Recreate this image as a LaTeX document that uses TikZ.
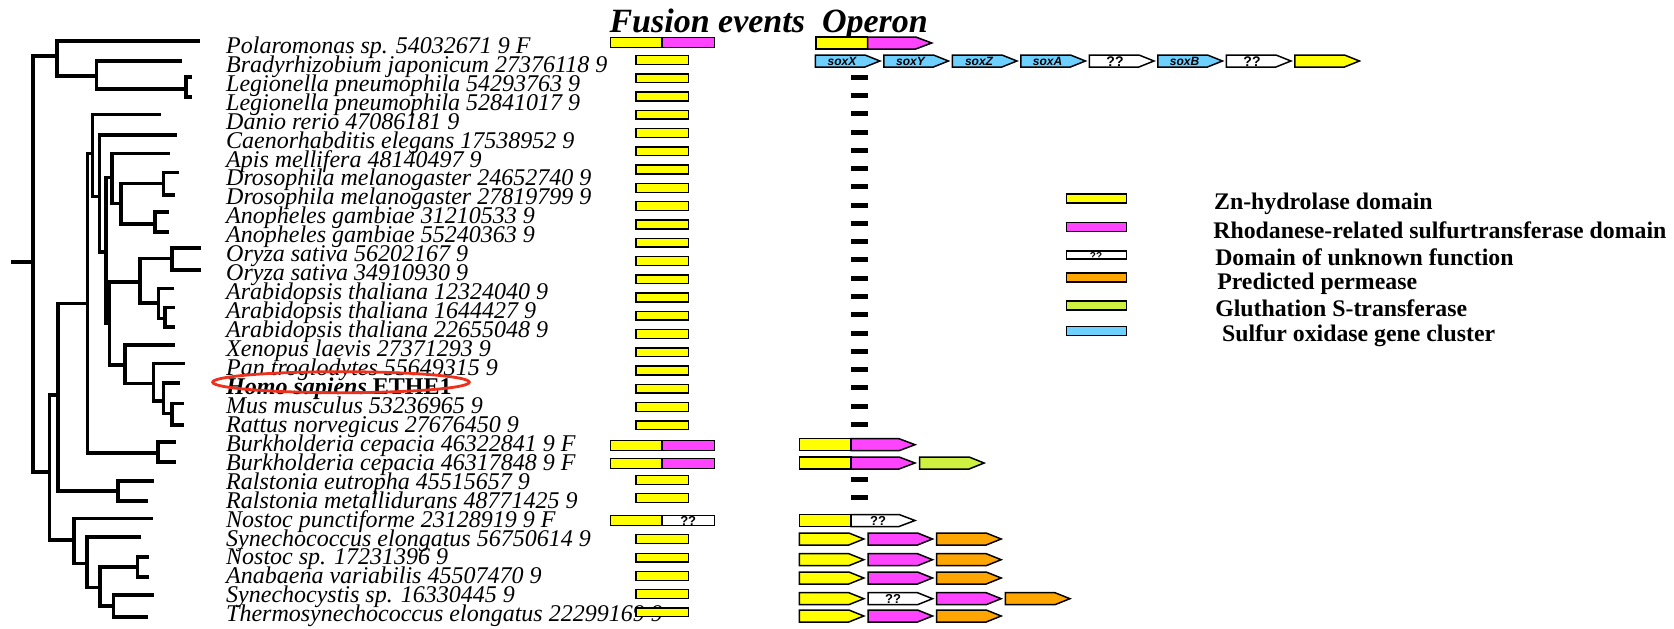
\documentclass[tikz,border=0pt]{standalone}
\usepackage{fontspec}
\setmainfont{Liberation Serif}
\newfontfamily\sansf{Liberation Sans}
\definecolor{gyellow}{RGB}{255,255,0}
\definecolor{gmag}{RGB}{255,68,255}
\definecolor{gblue}{RGB}{110,208,255}
\definecolor{gorange}{RGB}{255,165,0}
\definecolor{ggreen}{RGB}{206,240,64}
\definecolor{ered}{RGB}{238,48,28}
\tikzset{
  tree/.style={line width=3.6pt, line cap=rect},
  bar/.style={draw=black, line width=1.5pt},
  dashmark/.style={line width=5pt},
  spname/.style={anchor=base west, inner sep=0pt, font=\fontsize{24}{24}\selectfont\itshape},
  ttl/.style={anchor=base west, inner sep=0pt, font=\fontsize{34}{34}\selectfont\bfseries\itshape},
  leg/.style={anchor=base west, inner sep=0pt, font=\fontsize{23.8}{24}\selectfont\bfseries},
  soxlab/.style={inner sep=0pt, font=\sansf\fontsize{12}{12}\selectfont\bfseries\itshape},
  qlab/.style={inner sep=0pt, font=\sansf\fontsize{13}{13}\selectfont\bfseries},
}
% gene arrow: x, y, colour
\newcommand\gArrow[3]{%
  \filldraw[bar, fill=#3] (#1,#2) ++(0,-6) -- ++(49.5,0) -- ++(15,6) -- ++(-15,6) -- ++(-49.5,0) -- cycle;}
% fused gene arrow: x, y, second colour
\newcommand\fArrow[3]{%
  \filldraw[bar, fill=gyellow] (#1,#2) ++(0,-6) rectangle ++(51.7,12);
  \filldraw[bar, fill=#3] (#1,#2) ++(51.7,-6) -- ++(48,0) -- ++(16,6) -- ++(-16,6) -- ++(-48,0) -- cycle;}
% fused bar: y, second colour
\newcommand\fBar[2]{%
  \filldraw[bar, fill=gyellow] (610.7,#1) ++(0,-5) rectangle (662.1,#1+5);
  \filldraw[bar, fill=#2] (662.1,#1) ++(0,-5) rectangle (714.3,#1+5);}
\begin{document}
\begin{tikzpicture}[x=1pt, y=-1pt]
\useasboundingbox (0,0) rectangle (1674,629);

% ---------------- tree ----------------
\coordinate (root) at (32.9,261.7); \coordinate (rs) at (13.2,261.7);
\coordinate (A) at (57.1,56); \coordinate (L0) at (198.2,40.7);
\coordinate (B) at (96.4,76); \coordinate (L1) at (180.4,60.7);
\coordinate (C) at (185.7,89); \coordinate (L2) at (190.4,76.7); \coordinate (L3) at (190.4,96.7);
\coordinate (X) at (49.3,471.7); \coordinate (Y) at (57.8,395);
\coordinate (D) at (87.3,303.3);
\coordinate (R) at (117.9,491); \coordinate (R1) at (151.8,481); \coordinate (R2) at (146.4,501);
\coordinate (Bk) at (158.2,452.7); \coordinate (Bk1) at (174.3,441.7); \coordinate (Bk2) at (174.3,461.7);
\coordinate (E) at (92.3,153.3); \coordinate (L4) at (159,114.5);
\coordinate (F) at (99.3,196.5); \coordinate (L5) at (175,135);
\coordinate (G) at (105.7,251.7);
\coordinate (H) at (111.7,177.3); \coordinate (L6) at (168.3,153.3);
\coordinate (I) at (120.7,203.3);
\coordinate (J) at (163.3,183.3); \coordinate (J1) at (177.3,172.3); \coordinate (J2) at (173.3,195);
\coordinate (K) at (155,224); \coordinate (K1) at (166.7,211.7); \coordinate (K2) at (166.7,231.7);
\coordinate (P) at (109.3,323.3);
\coordinate (Q) at (140,281.7);
\coordinate (O) at (171.7,258.3); \coordinate (O1) at (199.3,247.7); \coordinate (O2) at (199.3,270);
\coordinate (S) at (158.3,302.7); \coordinate (L13) at (171.7,288.3);
\coordinate (T) at (165,318.3); \coordinate (T1) at (173.3,307.3); \coordinate (T2) at (173.3,326.7);
\coordinate (V) at (125,365); \coordinate (L16) at (172.7,345);
\coordinate (W) at (153.3,383.3); \coordinate (L17) at (182.7,363.3);
\coordinate (Z) at (163.3,401); \coordinate (L18) at (178.3,382.7);
\coordinate (M) at (171.7,413.3); \coordinate (M1) at (181.7,403.3); \coordinate (M2) at (181.7,425);
\coordinate (Cy) at (73.9,540); \coordinate (L25) at (151.1,518.3);
\coordinate (C2) at (86.8,563.3); \coordinate (L26) at (139.3,536.7);
\coordinate (C3) at (100,587.3);
\coordinate (C4) at (137.5,566.7); \coordinate (C41) at (147.5,556.7); \coordinate (C42) at (147.5,576.7);
\coordinate (C5) at (113.6,605.7); \coordinate (C51) at (151.8,595); \coordinate (C52) at (146.4,616.7);

\draw[tree] (root) -- (rs);
\draw[tree] (A) -| (root) |- (X);
\draw[tree] (L0) -| (A) |- (B);
\draw[tree] (L1) -| (B) |- (C);
\draw[tree] (L2) -| (C) |- (L3);
\draw[tree] (Y) -| (X) |- (Cy);
\draw[tree] (D) -| (Y) |- (R);
\draw[tree] (R1) -| (R) |- (R2);
\draw[tree] (E) -| (D) |- (Bk);
\draw[tree] (Bk1) -| (Bk) |- (Bk2);
\draw[tree] (L4) -| (E) |- (F);
\draw[tree] (L5) -| (F) |- (G);
\draw[tree] (H) -| (G) |- (P);
\draw[tree] (L6) -| (H) |- (I);
\draw[tree] (J) -| (I) |- (K);
\draw[tree] (J1) -| (J) |- (J2);
\draw[tree] (K1) -| (K) |- (K2);
\draw[tree] (Q) -| (P) |- (V);
\draw[tree] (O) -| (Q) |- (S);
\draw[tree] (O1) -| (O) |- (O2);
\draw[tree] (L13) -| (S) |- (T);
\draw[tree] (T1) -| (T) |- (T2);
\draw[tree] (L16) -| (V) |- (W);
\draw[tree] (L17) -| (W) |- (Z);
\draw[tree] (L18) -| (Z) |- (M);
\draw[tree] (M1) -| (M) |- (M2);
\draw[tree] (L25) -| (Cy) |- (C2);
\draw[tree] (L26) -| (C2) |- (C3);
\draw[tree] (C4) -| (C3) |- (C5);
\draw[tree] (C41) -| (C4) |- (C42);
\draw[tree] (C51) -| (C5) |- (C52);

% ---------------- names ----------------
\foreach \i/\nm in {0/Polaromonas sp. 54032671 9 F, 1/Bradyrhizobium japonicum 27376118 9,
  2/Legionella pneumophila 54293763 9, 3/Legionella pneumophila 52841017 9,
  4/Danio rerio 47086181 9, 5/Caenorhabditis elegans 17538952 9,
  6/Apis mellifera 48140497 9, 7/Drosophila melanogaster 24652740 9,
  8/Drosophila melanogaster 27819799 9, 9/Anopheles gambiae 31210533 9,
  10/Anopheles gambiae 55240363 9, 11/Oryza sativa 56202167 9,
  12/Oryza sativa 34910930 9, 13/Arabidopsis thaliana 12324040 9,
  14/Arabidopsis thaliana 1644427 9, 15/Arabidopsis thaliana 22655048 9,
  16/Xenopus laevis 27371293 9, 17/Pan troglodytes 55649315 9,
  19/Mus musculus 53236965 9, 20/Rattus norvegicus 27676450 9,
  21/Burkholderia cepacia 46322841 9 F, 22/Burkholderia cepacia 46317848 9 F,
  23/Ralstonia eutropha 45515657 9, 24/Ralstonia metallidurans 48771425 9,
  25/Nostoc punctiforme 23128919 9 F, 26/Synechococcus elongatus 56750614 9,
  27/Nostoc sp. 17231396 9, 28/Anabaena variabilis 45507470 9,
  29/Synechocystis sp. 16330445 9, 30/Thermosynechococcus elongatus 22299169 9}
  \node[spname] (n\i) at (226,{53.3+18.95*\i}) {\nm};
\node[spname] (n18) at (226,{53.3+18.95*18}) {\textbf{Homo sapiens} \textbf{\upshape ETHE1}};
\draw[ered, line width=2.8pt] (341,382.2) ellipse [x radius=128.3, y radius=10.5];

% ---------------- titles ----------------
\node[ttl] (tfus) at (609.3,32.3) {Fusion events};
\node[ttl] (top) at (821.8,32.3) {Operon};

% ---------------- fusion column ----------------
\foreach \k in {0,...,20}
  \filldraw[bar, fill=gyellow] (636,{60+18.265*\k-4.4}) rectangle (688.3,{60+18.265*\k+4.4});
\foreach \y in {480,498,539,557.7,576,594,612.3}
  \filldraw[bar, fill=gyellow] (636,\y-4.4) rectangle (688.3,\y+4.4);
\fBar{42.3}{gmag}
\fBar{445.3}{gmag}
\fBar{463.3}{gmag}
\fBar{520.3}{white}
\node[qlab] (qf) at (688.2,520.8) {??};

% ---------------- operon column ----------------
\foreach \k in {0,...,19}
  \draw[dashmark] (851,{77.3+18.265*\k}) -- (868,{77.3+18.265*\k});
\draw[dashmark] (851,479.3) -- (868,479.3);
\draw[dashmark] (851,497.3) -- (868,497.3);

\fArrow{816}{43}{gmag}
% sox cluster
\gArrow{815.4}{61}{gblue}  \node[soxlab] (sx) at (842,61) {soxX};
\gArrow{883.9}{61}{gblue}  \node[soxlab] (sy) at (910.5,61) {soxY};
\gArrow{952.4}{61}{gblue}  \node[soxlab] (sz) at (979,61) {soxZ};
\gArrow{1020.9}{61}{gblue} \node[soxlab] (sa) at (1047.5,61) {soxA};
\gArrow{1089.4}{61}{white} \node[qlab, font=\sansf\fontsize{14}{14}\selectfont\bfseries] (q1) at (1115,61.5) {??};
\gArrow{1157.9}{61}{gblue} \node[soxlab] (sb) at (1184.5,61) {soxB};
\gArrow{1226.4}{61}{white} \node[qlab, font=\sansf\fontsize{14}{14}\selectfont\bfseries] (q2) at (1252,61.5) {??};
\gArrow{1294.9}{61}{gyellow}

\fArrow{799.3}{444.7}{gmag}
\fArrow{799.3}{463}{gmag}
\gArrow{919.6}{463}{ggreen}
\fArrow{799.3}{520.5}{white}
\node[qlab] (q3) at (878,521) {??};

\foreach \y in {539,559.7,578,616}{
  \gArrow{799.3}{\y}{gyellow}
  \gArrow{868}{\y}{gmag}
  \gArrow{936.7}{\y}{gorange}}
\gArrow{799.3}{598.7}{gyellow}
\gArrow{868}{598.7}{white}
\node[qlab] (q4) at (893,599.2) {??};
\gArrow{936.7}{598.7}{gmag}
\gArrow{1005.4}{598.7}{gorange}

% ---------------- legend ----------------
\filldraw[bar, fill=gyellow] (1066.7,194.2) rectangle (1126.4,203.2);
\filldraw[bar, fill=gmag]    (1066.7,222.5) rectangle (1126.4,231.5);
\filldraw[bar, fill=white]   (1066.7,251) rectangle (1126.4,259);
\node[qlab, font=\sansf\fontsize{10}{10}\selectfont\bfseries] (lq) at (1096,256) {??};
\filldraw[bar, fill=gorange] (1066.7,273) rectangle (1126.4,282);
\filldraw[bar, fill=ggreen]  (1066.7,300.8) rectangle (1126.4,309.8);
\filldraw[bar, fill=gblue]   (1066.7,326.7) rectangle (1126.4,335.7);
\node[leg] (l1) at (1214,209.3) {Zn-hydrolase domain};
\node[leg] (l2) at (1213.2,238.3) {Rhodanese-related sulfurtransferase domain};
\node[leg] (l3) at (1215.1,265) {Domain of unknown function};
\node[leg] (l4) at (1217.1,289.3) {Predicted permease};
\node[leg] (l5) at (1215.1,316.5) {Gluthation S-transferase};
\node[leg] (l6) at (1221.9,341.7) {Sulfur oxidase gene cluster};
\end{tikzpicture}
\end{document}
